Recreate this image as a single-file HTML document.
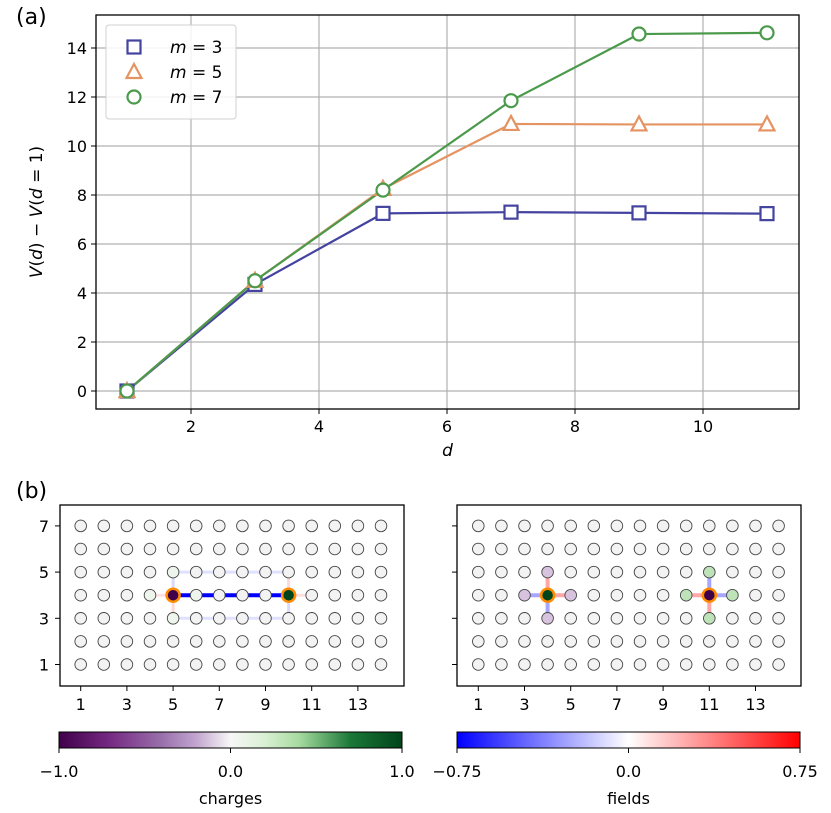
<!DOCTYPE html>
<html><head><meta charset="utf-8"><style>
body{margin:0;background:#fff;}
svg{display:block;font-family:"DejaVu Sans","Liberation Sans",sans-serif;}
</style></head><body>
<svg id="fig" width="831" height="813" viewBox="0 0 831 813" xmlns="http://www.w3.org/2000/svg">
<defs>
<linearGradient id="prgn" x1="0" x2="1" y1="0" y2="0">
<stop offset="0" stop-color="#40004b"/><stop offset="0.15" stop-color="#762a83"/><stop offset="0.3" stop-color="#9970ab"/><stop offset="0.4" stop-color="#c2a5cf"/><stop offset="0.5" stop-color="#f7f7f7"/><stop offset="0.6" stop-color="#d9f0d3"/><stop offset="0.7" stop-color="#a6dba0"/><stop offset="0.85" stop-color="#1b7837"/><stop offset="1" stop-color="#00441b"/>
</linearGradient>
<linearGradient id="bwr" x1="0" x2="1" y1="0" y2="0">
<stop offset="0" stop-color="#0000ff"/><stop offset="0.5" stop-color="#ffffff"/><stop offset="1" stop-color="#ff0000"/>
</linearGradient>
</defs>
<text x="16" y="24" font-size="22">(a)</text>
<text x="16" y="498" font-size="22">(b)</text>
<g id="topg"></g>
<g id="bl"></g>
<g id="br"></g>
<rect x="59" y="732" width="343" height="16" fill="url(#prgn)" stroke="#000" stroke-width="1"/>
<rect x="457" y="732" width="343" height="16" fill="url(#bwr)" stroke="#000" stroke-width="1"/>
<g font-size="16" text-anchor="middle">
<line x1="59" y1="748" x2="59" y2="753" stroke="#000"/><line x1="230.5" y1="748" x2="230.5" y2="753" stroke="#000"/><line x1="402" y1="748" x2="402" y2="753" stroke="#000"/>
<text x="59" y="777">−1.0</text>
<text x="230.5" y="777">0.0</text>
<text x="402" y="777">1.0</text>
<text x="230.5" y="804">charges</text>
<line x1="457" y1="748" x2="457" y2="753" stroke="#000"/><line x1="628.5" y1="748" x2="628.5" y2="753" stroke="#000"/><line x1="800" y1="748" x2="800" y2="753" stroke="#000"/>
<text x="457" y="777">−0.75</text>
<text x="628.5" y="777">0.0</text>
<text x="800" y="777">0.75</text>
<text x="628.5" y="804">fields</text>
</g>
</svg>
<script>
const NS='http://www.w3.org/2000/svg';
function mk(parent,tag,attrs){const e=document.createElementNS(NS,tag);for(const k in attrs)e.setAttribute(k,attrs[k]);parent.appendChild(e);return e;}
const dValues=[1,3,5,7,9,11];
const m3Values=[0,4.35,7.25,7.3,7.27,7.24];
const m5Values=[0,4.5,8.25,10.9,10.88,10.88];
const m7Values=[0,4.5,8.2,11.85,14.57,14.62];
const xTicks=[2,4,6,8,10];
const yTicks=[0,2,4,6,8,10,12,14];
const L=96,R=799,T=15,B=409;
const xs=v=>127+(v-1)*64;
const ys=v=>391-v*24.5;
const topG=document.getElementById('topg');
xTicks.forEach(t=>{const g=mk(topG,'line',{x1:xs(t),x2:xs(t),y1:T,y2:B,stroke:'#b0b0b0','stroke-width':1.2});

mk(topG,'line',{x1:xs(t),x2:xs(t),y1:B,y2:B+5,stroke:'#000'});
const tx=mk(topG,'text',{x:xs(t),y:B+23,'font-size':16,'text-anchor':'middle'});tx.textContent=t;
});
yTicks.forEach(t=>{const g=mk(topG,'line',{x1:L,x2:R,y1:ys(t),y2:ys(t),stroke:'#b0b0b0','stroke-width':1.2});

mk(topG,'line',{x1:L-5,x2:L,y1:ys(t),y2:ys(t),stroke:'#000'});
const tx=mk(topG,'text',{x:L-9,y:ys(t)+6,'font-size':16,'text-anchor':'end'});tx.textContent=t;
});
const series=[{v:m3Values,c:'#4444a0',mk:'sq',n:'m3'},{v:m5Values,c:'#e39462',mk:'tri',n:'m5'},{v:m7Values,c:'#4b9a4b',mk:'circ',n:'m7'}];
function marker(p,type,x,y,c){let e;
if(type==='sq')e=mk(p,'rect',{x:x-6.5,y:y-6.5,width:13,height:13,fill:'#fff',stroke:c,'stroke-width':2.2});
else if(type==='tri')e=mk(p,'polygon',{points:`${x},${y-8} ${x+7.5},${y+6} ${x-7.5},${y+6}`,fill:'#fff',stroke:c,'stroke-width':2.2});
else e=mk(p,'circle',{cx:x,cy:y,r:6.5,fill:'#fff',stroke:c,'stroke-width':2.2});return e;}
series.forEach(s=>{const pl=mk(topG,'polyline',{points:dValues.map((d,i)=>xs(d)+','+ys(s.v[i])).join(' '),fill:'none',stroke:s.c,'stroke-width':2.2});
});
series.forEach(s=>{dValues.forEach((d,i)=>{const e=marker(topG,s.mk,xs(d),ys(s.v[i]),s.c);
});});
const fr=mk(topG,'rect',{x:L,y:T,width:R-L,height:B-T,fill:'none',stroke:'#000','stroke-width':1.3});

const xl=mk(topG,'text',{x:(L+R)/2,y:B+47,'font-size':17,'text-anchor':'middle','font-style':'italic'});xl.textContent='d';

const yl=mk(topG,'text',{x:0,y:0,'font-size':17,'text-anchor':'middle',transform:`translate(42,${(T+B)/2}) rotate(-90)`});
yl.innerHTML='<tspan font-style="italic">V</tspan>(<tspan font-style="italic">d</tspan>) − <tspan font-style="italic">V</tspan>(<tspan font-style="italic">d</tspan> = 1)';

const lg=mk(topG,'rect',{x:106,y:25,width:130,height:94,rx:3,fill:'#fff','fill-opacity':0.85,stroke:'#d0d0d0'});

series.forEach((s,i)=>{const y=47+i*25;const e=marker(topG,s.mk,134,y,s.c);

const t=mk(topG,'text',{x:170,y:y+6,'font-size':17});t.innerHTML='<tspan font-style="italic">m</tspan> = '+[3,5,7][i];
});

const cols=14,rows=7;
function lattice(g,fx,x0,nodeFill,links,charges,showY){
const sp=23.1,y0=664.5;
const X=c=>x0+(c-1)*sp, Y=r=>y0-(r-1)*sp;
const f=mk(g,'rect',{x:fx,y:505,width:344,height:181,fill:'#fff',stroke:'#000','stroke-width':1.3});

links.forEach(l=>{const e=mk(g,'line',{x1:X(l[0]),y1:Y(l[1]),x2:X(l[2]),y2:Y(l[3]),stroke:l[4],'stroke-width':l[5],'stroke-opacity':l[6]});
});
for(let r=1;r<=rows;r++)for(let c=1;c<=cols;c++){const k=c+','+r;let fill=nodeFill[k]||'#f3f3f3';
const ch=charges[k];
const e=mk(g,'circle',{cx:X(c),cy:Y(r),r:ch?6.5:5.8,fill:ch?ch:fill,stroke:ch?'#ff8c00':'#444','stroke-width':ch?2.5:0.9});
}
[1,3,5,7,9,11,13].forEach(c=>{mk(g,'line',{x1:X(c),x2:X(c),y1:686,y2:691,stroke:'#000'});
const t=mk(g,'text',{x:X(c),y:710,'font-size':16,'text-anchor':'middle'});t.textContent=c;
});
[1,3,5,7].forEach(r=>{mk(g,'line',{x1:fx-5,x2:fx,y1:Y(r),y2:Y(r),stroke:'#000'});
if(showY){const t=mk(g,'text',{x:fx-11,y:Y(r)+6,'font-size':16,'text-anchor':'end'});t.textContent=r;
}});
}
const B1='#0000ff',R1='#ff0000';
lattice(document.getElementById('bl'),60,80.7,{'5,5':'#eef5ec','5,3':'#eef5ec','4,4':'#eef5ec','6,4':'#eef5ec'},
[[5,4,10,4,B1,4,1],[5,5,10,5,B1,3,0.12],[5,3,10,3,B1,3,0.12],[5,4,5,5,B1,3,0.15],[5,3,5,4,R1,3,0.15],[10,4,10,5,R1,3,0.15],[10,3,10,4,B1,3,0.15],[4,4,5,4,R1,3,0.12],[10,4,11,4,R1,3,0.12]],
{'5,4':'#40004b','10,4':'#00441b'},true);
lattice(document.getElementById('br'),457,478.3,{'3,4':'#d8c3df','5,4':'#d8c3df','4,5':'#d8c3df','4,3':'#d8c3df','10,4':'#bfe3b9','12,4':'#bfe3b9','11,5':'#bfe3b9','11,3':'#bfe3b9'},
[[3,4,4,4,B1,4,0.35],[4,4,5,4,R1,4,0.35],[4,4,4,5,R1,4,0.35],[4,3,4,4,B1,4,0.35],[10,4,11,4,R1,4,0.35],[11,4,12,4,B1,4,0.35],[11,4,11,5,B1,4,0.35],[11,3,11,4,R1,4,0.35]],
{'4,4':'#00441b','11,4':'#40004b'},false);
</script>
</body></html>
